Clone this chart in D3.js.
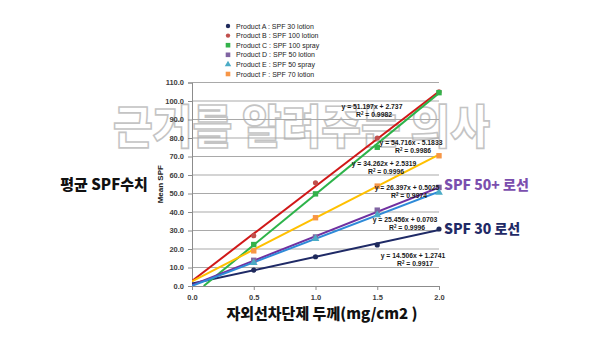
<!DOCTYPE html>
<html>
<head>
<meta charset="utf-8">
<script src="https://cdn.jsdelivr.net/npm/d3@7/dist/d3.min.js"></script>
<style>
  html, body { margin: 0; padding: 0; background: #fff; }
  svg { display: block; }
</style>
</head>
<body>
<svg id="chart" width="600" height="337"></svg>
<script>
// Applied sunscreen thickness (mg/cm2)
const thickness = [0.5, 1.0, 1.5, 2.0];

// Mean measured SPF per product
const productA = [8.6, 15.8, 22.2, 30.8];
const productB = [27.2, 55.8, 80.0, 105.0];
const productC = [22.4, 49.8, 75.0, 104.5];
const productD = [13.9, 26.5, 41.0, 53.3];
const productE = [12.5, 25.5, 38.4, 50.6];
const productF = [19.0, 36.9, 54.0, 70.4];

// Linear trendline coefficients [slope, intercept, R²]
const fitA = [14.506, 1.2741, 0.9917];
const fitB = [51.197, 2.737, 0.9982];
const fitC = [54.716, -5.1833, 0.9986];
const fitD = [26.397, 0.5025, 0.9974];
const fitE = [25.456, 0.0703, 0.9996];
const fitF = [34.262, 2.5319, 0.9996];

const legendLabels = [
  "Product A : SPF 30 lotion",
  "Product B : SPF 100 lotion",
  "Product C : SPF 100 spray",
  "Product D : SPF 50 lotion",
  "Product E : SPF 50 spray",
  "Product F : SPF 70 lotion"
];

const xTicks = [0.0, 0.5, 1.0, 1.5, 2.0];
const yTicks = [0, 10, 20, 30, 40, 50, 60, 70, 80, 90, 100, 110];

const series = [
  { values: productA, fit: fitA, line: "#1f2a66", mark: "#1f2a5c", shape: "circle", lab: [413, 255] },
  { values: productB, fit: fitB, line: "#d01818", mark: "#c0504d", shape: "circle", lab: [372, 106] },
  { values: productC, fit: fitC, line: "#2db34a", mark: "#33b24a", shape: "square", lab: [411, 142] },
  { values: productD, fit: fitD, line: "#7030a0", mark: "#8064a2", shape: "square", lab: [407, 187] },
  { values: productE, fit: fitE, line: "#2e8ad8", mark: "#4bacc6", shape: "triangle", lab: [405, 219] },
  { values: productF, fit: fitF, line: "#ffc000", mark: "#f79646", shape: "square", lab: [384, 163] }
];

const svg = d3.select("#chart");
const x = d3.scaleLinear().domain([0, 2]).range([192, 439]);
const y = d3.scaleLinear().domain([0, 110]).range([286, 82.5]);

// Watermark, sitting behind the chart
svg.append("text")
  .attr("x", 113).attr("y", 143)
  .attr("font-family", "Noto Sans CJK KR, sans-serif")
  .attr("font-weight", 900)
  .attr("font-size", 46)
  .attr("textLength", 377)
  .attr("lengthAdjust", "spacingAndGlyphs")
  .attr("fill", "#ffffff")
  .attr("stroke", "#c4c4c4").attr("stroke-width", 1.6)
  .text("근거를 알려주는 의사");

// Horizontal gridlines
svg.append("g")
  .selectAll("line")
  .data(yTicks.slice(1))
  .join("line")
  .attr("x1", x(0)).attr("x2", x(2))
  .attr("y1", d => y(d)).attr("y2", d => y(d))
  .attr("stroke", "#a9a9a9").attr("stroke-width", 1);

// Axes
const yAxis = d3.axisLeft(y).tickValues(yTicks).tickFormat(d3.format(".1f")).tickSize(4).tickPadding(4);
const xAxis = d3.axisBottom(x).tickValues(xTicks).tickFormat(d3.format(".1f")).tickSize(4).tickPadding(5);

const gy = svg.append("g").attr("transform", `translate(${x(0)},0)`).call(yAxis);
const gx = svg.append("g").attr("transform", `translate(0,${y(0)})`).call(xAxis);
[gy, gx].forEach(g => {
  g.selectAll("path, line").attr("stroke", "#8c8c8c");
  g.selectAll("text")
    .attr("font-family", "Liberation Sans, Arial, sans-serif")
    .attr("font-size", 7.5)
    .attr("font-weight", "bold")
    .attr("fill", "#404040");
});

// Clip trendlines to the plotting region
svg.append("clipPath").attr("id", "plot")
  .append("rect")
  .attr("x", x(0)).attr("y", y(110))
  .attr("width", x(2) - x(0)).attr("height", y(0) - y(110));

const plot = svg.append("g").attr("clip-path", "url(#plot)");

series.forEach(s => {
  const [m, b] = s.fit;
  const x0 = b < 0 ? -b / m : 0;
  plot.append("line")
    .attr("x1", x(x0)).attr("y1", y(m * x0 + b))
    .attr("x2", x(2)).attr("y2", y(m * 2 + b))
    .attr("stroke", s.line).attr("stroke-width", 2);
});

// Markers
const markG = svg.append("g");
series.forEach(s => {
  s.values.forEach((v, i) => {
    const cx = x(thickness[i]), cy = y(v);
    if (s.shape === "circle") {
      markG.append("circle").attr("cx", cx).attr("cy", cy).attr("r", 2.6).attr("fill", s.mark);
    } else if (s.shape === "square") {
      markG.append("rect").attr("x", cx - 2.7).attr("y", cy - 2.7).attr("width", 5.4).attr("height", 5.4).attr("fill", s.mark);
    } else {
      markG.append("path").attr("d", d3.symbol(d3.symbolTriangle, 26)()).attr("transform", `translate(${cx},${cy})`).attr("fill", s.mark);
    }
  });
});

// Trendline equations
const eqG = svg.append("g")
  .attr("font-family", "Liberation Sans, Arial, sans-serif")
  .attr("font-size", 6.8)
  .attr("font-weight", "bold")
  .attr("fill", "#1a1a1a")
  .attr("text-anchor", "middle");
series.forEach(s => {
  const [m, b, r2] = s.fit;
  const eq = `y = ${m}x ${b < 0 ? "-" : "+"} ${Math.abs(b)}`;
  eqG.append("text").attr("x", s.lab[0]).attr("y", s.lab[1] + 2.5).text(eq);
  const t2 = eqG.append("text").attr("x", s.lab[0] + 2).attr("y", s.lab[1] + 11);
  t2.append("tspan").text("R");
  t2.append("tspan").attr("font-size", 4.5).attr("dy", -2.5).text("2");
  t2.append("tspan").attr("dy", 2.5).text(` = ${r2.toFixed(4)}`);
});

// Legend
const legend = svg.append("g")
  .attr("font-family", "Liberation Sans, Arial, sans-serif")
  .attr("font-size", 7)
  .attr("fill", "#222");
legendLabels.forEach((label, i) => {
  const s = series[i];
  const ly = 26 + i * 9.6;
  const lx = 228;
  if (s.shape === "circle") {
    legend.append("circle").attr("cx", lx).attr("cy", ly).attr("r", 2.2).attr("fill", s.mark);
  } else if (s.shape === "square") {
    legend.append("rect").attr("x", lx - 2.3).attr("y", ly - 2.3).attr("width", 4.6).attr("height", 4.6).attr("fill", s.mark);
  } else {
    legend.append("path").attr("d", d3.symbol(d3.symbolTriangle, 18)()).attr("transform", `translate(${lx},${ly})`).attr("fill", s.mark);
  }
  legend.append("text").attr("x", 236).attr("y", ly + 2.5).text(label);
});

// Axis titles
svg.append("text")
  .attr("transform", `translate(163,${y(55)}) rotate(-90)`)
  .attr("text-anchor", "middle")
  .attr("font-family", "Liberation Sans, Arial, sans-serif")
  .attr("font-size", 8)
  .attr("font-weight", "bold")
  .attr("fill", "#222")
  .text("Mean SPF");

svg.append("text")
  .attr("x", 104).attr("y", 190)
  .attr("text-anchor", "middle")
  .attr("font-family", "Noto Sans CJK KR, sans-serif")
  .attr("font-weight", 900)
  .attr("font-size", 15)
  .attr("fill", "#111")
  .text("평균 SPF수치");

svg.append("text")
  .attr("x", 322).attr("y", 319)
  .attr("text-anchor", "middle")
  .attr("font-family", "Noto Sans CJK KR, sans-serif")
  .attr("font-weight", 900)
  .attr("font-size", 15)
  .attr("fill", "#111")
  .text("자외선차단제 두께(mg/cm2 )");

// Callouts
const callouts = [
  { text: "SPF 50+ 로선", x: 444, y: 190, color: "#7b4fae" },
  { text: "SPF 30 로선", x: 444, y: 234, color: "#1f2a66" }
];
callouts.forEach(c => {
  svg.append("text")
    .attr("x", c.x).attr("y", c.y)
    .attr("font-family", "Noto Sans CJK KR, sans-serif")
    .attr("font-weight", 900)
    .attr("font-size", 14)
    .attr("fill", c.color)
    .attr("stroke", "#ffffff").attr("stroke-width", 2.5)
    .attr("paint-order", "stroke")
    .text(c.text);
});
</script>
</body>
</html>
